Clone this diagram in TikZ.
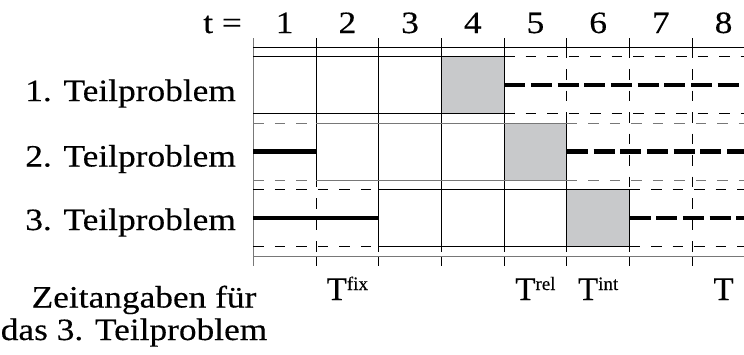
\documentclass[tikz,border=0pt]{standalone}
\usepackage{fontspec}
\usetikzlibrary{calc}
\setmainfont{Liberation Serif}[FakeStretch=1.14,FakeBold=0.3]
\newfontfamily\tfont{Liberation Serif}[FakeBold=0.3]
\definecolor{boxfill}{RGB}{200,201,203}
\definecolor{rowgrey}{RGB}{120,120,120}
\begin{document}
\begin{tikzpicture}[x=1pt,y=-1pt,
  thinline/.style={line width=1pt},
  dashline/.style={line width=1pt, dash pattern=on 10.5pt off 11pt},
  thicksolid/.style={line width=4.6pt},
  thickdash/.style={line width=4.6pt, dash pattern=on 21pt off 5.7pt},
  lbl/.style={font=\fontsize{31}{33}\selectfont, inner sep=0pt},
  tlbl/.style={font=\tfont\fontsize{33}{36}\selectfont, inner sep=0pt},
  shaded/.style={fill=boxfill}]
\clip (0,0) rectangle (744,354);
% column boundaries
\foreach \i in {0,...,8} {\coordinate (X\i) at ({253.3+62.7*\i},0);}
% grey boxes
\fill[shaded] ($(X3)+(0,56.5)$) rectangle ($(X4)+(0,113.5)$);
\fill[shaded] ($(X4)+(0,123)$) rectangle ($(X5)+(0,180)$);
\fill[shaded] ($(X5)+(0,189.5)$) rectangle ($(X6)+(0,246.5)$);
% dashed vertical lines
\foreach \i in {1,...,7} {\draw[dashline] ($(X\i)+(0,47.5)$) -- ($(X\i)+(0,256)$);}
% ticks
\foreach \i in {0,...,8} {
  \draw[thinline] ($(X\i)+(0,38)$) -- ($(X\i)+(0,47.5)$);
  \draw[thinline] ($(X\i)+(0,256)$) -- ($(X\i)+(0,266)$);
}
% solid verticals
\draw[thinline,rowgrey] ($(X0)+(0,38)$) -- ($(X0)+(0,266)$);
\draw[thinline] ($(X1)+(0,56.5)$) -- ($(X1)+(0,180)$);
\draw[thinline] ($(X2)+(0,56.5)$) -- ($(X2)+(0,246.5)$);
\draw[thinline] ($(X3)+(0,56.5)$) -- ($(X3)+(0,246.5)$);
\draw[thinline] ($(X4)+(0,56.5)$) -- ($(X4)+(0,246.5)$);
\draw[thinline] ($(X5)+(0,123)$) -- ($(X5)+(0,246.5)$);
\draw[thinline] ($(X6)+(0,189.5)$) -- ($(X6)+(0,246.5)$);
% axes
\draw[thinline] ($(X0)+(0,47.5)$) -- (744,47.5);
\draw[thinline,rowgrey] ($(X0)+(0,256)$) -- (744,256);
% row 1
\foreach \y in {56.5,113.5} {
  \draw[thinline] ($(X0)+(0,\y)$) -- ($(X4)+(0,\y)$);
  \draw[dashline] ($(X4)+(0,\y)$) -- (744,\y);
}
% row 2
\foreach \y in {123,180} {
  \draw[dashline,rowgrey] ($(X0)+(0,\y)$) -- ($(X1)+(0,\y)$);
  \draw[thinline,rowgrey] ($(X1)+(0,\y)$) -- ($(X5)+(0,\y)$);
  \draw[dashline,rowgrey] ($(X5)+(0,\y)$) -- (744,\y);
}
% row 3
\foreach \y in {189.5,246.5} {
  \draw[dashline] ($(X0)+(0,\y)$) -- ($(X2)+(0,\y)$);
  \draw[thinline] ($(X2)+(0,\y)$) -- ($(X6)+(0,\y)$);
  \draw[dashline] ($(X6)+(0,\y)$) -- (744,\y);
}
% thick lines
\draw[thickdash] ($(X4)+(0,85)$) -- (750,85);
\draw[thicksolid] ($(X0)+(0,151.5)$) -- ($(X1)+(0,151.5)$);
\draw[thickdash] ($(X5)+(0,151.5)$) -- (750,151.5);
\draw[thicksolid] ($(X0)+(0,218)$) -- ($(X2)+(0,218)$);
\draw[thickdash] ($(X6)+(0,218)$) -- (750,218);
% top labels
\node[lbl, anchor=base east] (teq) at (242,33) {t =};
\foreach \i/\n in {0/1,1/2,2/3,3/4,4/5,5/6,6/7,7/8} {
  \node[lbl, anchor=base] (c\n) at ({253.3+62.7*\i+31.35},33) {\n};
}
% row labels
\node[lbl, anchor=base east] (r1) at (236,101) {1. Teilproblem};
\node[lbl, anchor=base east] (r2) at (236,166.5) {2. Teilproblem};
\node[lbl, anchor=base east] (r3) at (236,230) {3. Teilproblem};
% time labels
\node[tlbl, anchor=base] (tfix) at ({253.3+62.7*1.5},300) {T\raisebox{10pt}{\fontsize{19}{19}\selectfont fix}};
\node[tlbl, anchor=base] (trel) at ({253.3+62.7*4.5},300) {T\raisebox{10pt}{\fontsize{19}{19}\selectfont rel}};
\node[tlbl, anchor=base] (tint) at ({253.3+62.7*5.5},300) {T\raisebox{10pt}{\fontsize{19}{19}\selectfont int}};
\node[tlbl, anchor=base] (tT) at ({253.3+62.7*7.5},300) {T};
% caption
\node[lbl, anchor=base] (z1) at (144,307.5) {Zeitangaben für};
\node[lbl, anchor=base] (z2) at (134,340) {das 3. Teilproblem};
\end{tikzpicture}
\end{document}
